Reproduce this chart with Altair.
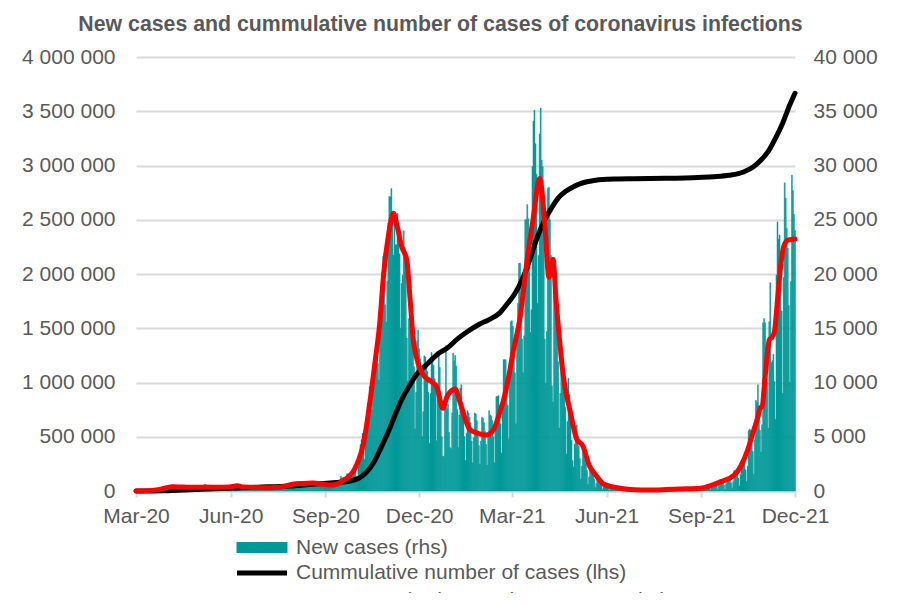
import altair as alt
import pandas as pd

FONT = "Liberation Sans"
GRAY = "#595959"
GRID = "#D9D9D9"
TEAL = "#009999"

# ---------------- daily new cases (rhs), one list per month ----------------
new_2020_03 = [1, 0, 4, 1, 5, 6, 5, 9, 20, 17, 36, 14, 27, 27, 51, 49, 68, 111, 98, 115,
               152, 150, 170, 170, 249, 224, 193, 256]  # from 4 March
new_2020_04 = [243, 392, 437, 475, 311, 435, 357, 370, 380, 336, 401, 318, 260, 268, 380,
               336, 363, 545, 263, 545, 313, 381, 287, 326, 460, 236, 234, 306, 300, 381]
new_2020_05 = [303, 295, 272, 319, 321, 307, 261, 387, 330, 595, 361, 379, 345, 291, 322,
               378, 318, 314, 417, 269, 307, 395, 443, 290, 292, 191, 395, 285, 290, 254, 380]
new_2020_06 = [230, 292, 361, 318, 576, 575, 599, 375, 282, 359, 314, 440, 404, 407, 342,
               254, 299, 300, 286, 301, 300, 236, 193, 213, 223, 318, 279, 250, 265, 230]
new_2020_07 = [371, 371, 299, 283, 262, 243, 193, 262, 299, 358, 318, 290, 250, 197, 299,
               275, 336, 358, 334, 322, 337, 332, 374, 418, 584, 443, 384, 512, 615, 615, 657]
new_2020_08 = [658, 599, 680, 512, 640, 726, 809, 843, 721, 548, 587, 680, 623, 832, 655,
               597, 576, 601, 814, 811, 903, 887, 738, 601, 570, 610, 887, 794, 619, 631, 549]
new_2020_09 = [555, 579, 596, 624, 716, 506, 386, 461, 549, 597, 595, 678, 520, 400, 500,
               600, 1002, 1002, 1350, 1002, 746, 748, 975, 1136, 1587, 1584, 1306, 1000, 1306, 1326]
new_2020_10 = [1552, 1937, 1934, 1344, 1306, 2236, 3003, 4280, 4739, 5300, 4178, 2902, 5068,
               6526, 8099, 7705, 9622, 8536, 7482, 9291, 10040, 12107, 13632, 13628, 11742,
               10241, 16300, 18820, 20156, 21629, 21897]
new_2020_11 = [17171, 15578, 19364, 24692, 27143, 27086, 27875, 24785, 21713, 25221, 22683,
               22700, 25571, 24051, 21854, 15002, 19152, 19883, 23975, 22464, 21130, 14100,
               10139, 15896, 15362, 17758, 16767, 15178, 11483, 5733]
new_2020_12 = [9105, 13855, 14838, 13110, 12169, 11068, 4998, 7309, 12454, 12352, 11679, 11011,
               9104, 4385, 8977, 12780, 12168, 11598, 10352, 9281, 4627, 8432, 12839, 11396,
               8000, 4999, 3183, 3211, 7620, 13397, 7597]
new_2021_01 = [8000, 5400, 4000, 3900, 7200, 12700, 12000, 12500, 11500, 7500, 4000, 7000, 9500,
               9800, 8000, 7300, 5000, 2800, 5300, 7400, 7200, 6800, 6300, 4600, 2600, 4900,
               7200, 7100, 6500, 5400, 4200]
new_2021_02 = [2500, 4600, 6800, 6700, 6300, 5500, 4300, 2400, 5200, 7400, 7000, 6900, 6500,
               5000, 2600, 6100, 8700, 8700, 8800, 7900, 6200, 3500, 7900, 12100, 12100, 12100,
               10500, 7900]
new_2021_03 = [4800, 11000, 15600, 15700, 15200, 14000, 10900, 6200, 14400, 17300, 21000, 21000,
               17400, 14000, 10900, 14300, 25000, 25000, 26400, 25100, 21800, 14600, 16700,
               29900, 34100, 35100, 32000, 29200, 17300, 21700, 32900]
new_2021_04 = [35300, 30500, 29900, 24800, 14000, 9900, 14700, 27900, 28000, 25000, 21700, 9700,
               8200, 21300, 21000, 17800, 15300, 11900, 5800, 9000, 13900, 12500, 11600, 9900,
               7700, 3400, 6400, 10400, 8900, 7300]
new_2021_05 = [4700, 2800, 2200, 4300, 5800, 6100, 5100, 4100, 3000, 1100, 2300, 3900, 3400,
               2900, 2500, 1900, 600, 1300, 2300, 2100, 1800, 1500, 1100, 350, 700, 1300, 1100,
               1000, 800, 600, 150]
new_2021_06 = [400, 620, 400, 450, 450, 330, 80, 230, 370, 310, 280, 230, 160, 40, 160, 250, 200,
               180, 140, 110, 30, 90, 150, 130, 110, 90, 80, 25, 60, 100]
new_2021_07 = [90, 80, 70, 60, 20, 60, 100, 90, 80, 70, 60, 25, 70, 100, 100, 100, 90, 70, 30,
               80, 120, 110, 120, 110, 80, 40, 90, 170, 150, 150, 130]
new_2021_08 = [100, 50, 110, 220, 200, 180, 190, 140, 60, 140, 230, 220, 210, 200, 150, 60, 120,
               250, 240, 230, 220, 170, 80, 170, 300, 250, 280, 260, 200, 90, 210]
new_2021_09 = [390, 380, 350, 310, 260, 100, 250, 460, 470, 430, 450, 330, 130, 350, 690, 690,
               680, 600, 470, 170, 510, 820, 900, 780, 730, 560, 190, 630, 1030, 1150]
new_2021_10 = [1000, 960, 750, 300, 850, 1900, 1840, 1750, 1540, 1200, 470, 1500, 2640, 2770,
               2990, 2700, 1950, 900, 2300, 5560, 5710, 5590, 4830, 3650, 1550, 4730, 8360,
               8200, 9800, 7900, 5600]
new_2021_11 = [3600, 6100, 15500, 15900, 15500, 13300, 10000, 5800, 15600, 19200, 11800, 12000,
               12600, 10100, 6600, 19900, 24800, 23200, 23600, 21000, 16600, 9000, 19700,
               28400, 27000, 24200, 22400, 17100, 10000, 19300]
new_2021_12 = [29100, 27700, 25500, 24000]

month_starts = ["2020-03-04", "2020-04-01", "2020-05-01", "2020-06-01", "2020-07-01",
                "2020-08-01", "2020-09-01", "2020-10-01", "2020-11-01", "2020-12-01",
                "2021-01-01", "2021-02-01", "2021-03-01", "2021-04-01", "2021-05-01",
                "2021-06-01", "2021-07-01", "2021-08-01", "2021-09-01", "2021-10-01",
                "2021-11-01", "2021-12-01"]
monthly_new = [new_2020_03, new_2020_04, new_2020_05, new_2020_06, new_2020_07, new_2020_08,
               new_2020_09, new_2020_10, new_2020_11, new_2020_12, new_2021_01, new_2021_02,
               new_2021_03, new_2021_04, new_2021_05, new_2021_06, new_2021_07, new_2021_08,
               new_2021_09, new_2021_10, new_2021_11, new_2021_12]

# ---------------- cumulative number of cases (lhs) ----------------
cum_dates = ["2020-03-04", "2020-03-31", "2020-04-30", "2020-05-31", "2020-06-30", "2020-07-31",
             "2020-08-31", "2020-09-15", "2020-09-30", "2020-10-07", "2020-10-14", "2020-10-21",
             "2020-10-28", "2020-11-04", "2020-11-11", "2020-11-18", "2020-11-25", "2020-12-02",
             "2020-12-09", "2020-12-16", "2020-12-23", "2020-12-31", "2021-01-10", "2021-01-20",
             "2021-01-31", "2021-02-10", "2021-02-20", "2021-02-28", "2021-03-07", "2021-03-14",
             "2021-03-21", "2021-03-28", "2021-04-04", "2021-04-11", "2021-04-18", "2021-04-25",
             "2021-05-02", "2021-05-09", "2021-05-16", "2021-05-23", "2021-05-31", "2021-06-15",
             "2021-07-01", "2021-08-01", "2021-09-01", "2021-09-15", "2021-10-01", "2021-10-15",
             "2021-10-25", "2021-11-01", "2021-11-08", "2021-11-15", "2021-11-22", "2021-11-29",
             "2021-12-04"]
cum_values = [0, 3000, 13700, 24700, 35200, 46300, 69100, 77800, 97000, 121000, 175000, 265000,
              400000, 545000, 710000, 860000, 975000, 1080000, 1145000, 1210000, 1270000,
              1315000, 1400000, 1470000, 1535000, 1580000, 1640000, 1730000, 1820000, 1950000,
              2120000, 2320000, 2480000, 2600000, 2700000, 2760000, 2800000, 2830000, 2850000,
              2862000, 2871000, 2876000, 2879000, 2882000, 2890000, 2897000, 2910000, 2940000,
              2990000, 3050000, 3130000, 3250000, 3390000, 3560000, 3666000]

# ---------------- 7-day moving average of new cases (rhs) ----------------
avg_dates = ["2020-03-04", "2020-03-15", "2020-03-27", "2020-04-08", "2020-04-18", "2020-05-01",
             "2020-05-11", "2020-05-21", "2020-06-03", "2020-06-10", "2020-06-16", "2020-07-05",
             "2020-07-22", "2020-08-03", "2020-08-13", "2020-08-23", "2020-09-02", "2020-09-11",
             "2020-09-17", "2020-09-21", "2020-09-25", "2020-10-01", "2020-10-06", "2020-10-11",
             "2020-10-17", "2020-10-22", "2020-10-27", "2020-10-30", "2020-11-04", "2020-11-09",
             "2020-11-12", "2020-11-17", "2020-11-22", "2020-11-25", "2020-11-28", "2020-12-03",
             "2020-12-08", "2020-12-16", "2020-12-21", "2020-12-27", "2020-12-31", "2021-01-05",
             "2021-01-08", "2021-01-12", "2021-01-17", "2021-01-22", "2021-01-30", "2021-02-07",
             "2021-02-14", "2021-02-19", "2021-02-24", "2021-03-01", "2021-03-05", "2021-03-12",
             "2021-03-18", "2021-03-25", "2021-03-31", "2021-04-05", "2021-04-09", "2021-04-13",
             "2021-04-16", "2021-04-18", "2021-04-23", "2021-04-30", "2021-05-06", "2021-05-12",
             "2021-05-18", "2021-05-25", "2021-06-01", "2021-06-17", "2021-07-01", "2021-07-15",
             "2021-08-01", "2021-08-15", "2021-09-03", "2021-09-23", "2021-10-06", "2021-10-12",
             "2021-10-19", "2021-10-24", "2021-10-29", "2021-10-31", "2021-11-02", "2021-11-05",
             "2021-11-09", "2021-11-12", "2021-11-14", "2021-11-17", "2021-11-20", "2021-11-23",
             "2021-11-27", "2021-12-04"]
avg_values = [0, 20, 150, 390, 370, 340, 370, 340, 380, 480, 360, 300, 350, 620, 700, 740, 620,
              560, 710, 1000, 1200, 1800, 2800, 4400, 8080, 11770, 15760, 19450, 23440, 25600,
              24670, 22520, 21290, 17900, 14220, 11770, 10690, 10070, 9610, 7620, 8700, 9300,
              9400, 8390, 6850, 5700, 5320, 5160, 5620, 6850, 8390, 10530, 12700, 16000, 20670,
              25280, 28800, 24670, 19700, 21350, 17500, 15300, 10600, 7200, 4780, 4150, 2400,
              1400, 650, 250, 110, 90, 130, 180, 250, 860, 1470, 2240, 3780, 5320, 6850, 7620,
              7770, 10530, 13920, 14220, 14680, 17600, 20670, 22520, 23130, 23220]

left_ticks = [0, 500000, 1000000, 1500000, 2000000, 2500000, 3000000, 3500000, 4000000]
right_ticks = [0, 5000, 10000, 15000, 20000, 25000, 30000, 35000, 40000]
x_ticks = [(2020, 3, 4), (2020, 6, 4), (2020, 9, 4), (2020, 12, 4),
           (2021, 3, 4), (2021, 6, 4), (2021, 9, 4), (2021, 12, 4)]

LBL_BARS = "New cases (rhs)"
LBL_CUM = "Cummulative number of cases (lhs)"
LBL_AVG = "New cases (7-day moving average, rhs)"

# ---------------- tables ----------------
rows = []
for start, vals in zip(month_starts, monthly_new):
    for i, v in enumerate(vals):
        d = pd.Timestamp(start) + pd.Timedelta(days=i)
        rows.append({"start": d - pd.Timedelta(hours=12), "end": d + pd.Timedelta(hours=12),
                     "new": v, "base": 0, "series": LBL_BARS})
bars_df = pd.DataFrame(rows)
cum_df = pd.DataFrame({"date": pd.to_datetime(cum_dates), "cum": cum_values, "series": LBL_CUM})
avg_df = pd.DataFrame({"date": pd.to_datetime(avg_dates), "avg": avg_values, "series": LBL_AVG})

space_fmt = "replace(format(datum.value, ','), regexp(',', 'g'), ' ')"

x_scale = alt.Scale(domain=[alt.DateTime(year=2020, month=3, date=4),
                            alt.DateTime(year=2021, month=12, date=4)])
x_axis = alt.Axis(values=[alt.DateTime(year=y, month=m, date=d) for y, m, d in x_ticks],
                  format="%b-%y", labelFontSize=21, labelColor=GRAY, labelFont=FONT,
                  tickColor=GRID, tickWidth=2, tickSize=6, domainColor=GRID, domainWidth=2,
                  grid=False, labelPadding=8, title=None, labelOverlap=False,
                  labelFlush=False)

left_axis = alt.Axis(orient="left", values=left_ticks, labelExpr=space_fmt, grid=True,
                     gridColor=GRID, gridWidth=2, domain=False, ticks=False, labelPadding=21,
                     labelFontSize=21, labelColor=GRAY, labelFont=FONT, title=None,
                     labelFlush=False)
right_axis = alt.Axis(orient="right", values=right_ticks, labelExpr=space_fmt, grid=False,
                      domain=False, ticks=False, labelPadding=18, labelFontSize=21,
                      labelColor=GRAY, labelFont=FONT, title=None, labelFlush=False)

fill_legend = alt.Legend(orient="none", legendX=115.5, legendY=480, title=None,
                         symbolType="M-5.1,-1.1H5.1V1.1H-5.1Z", symbolSize=100,
                         symbolStrokeWidth=0, labelFontSize=21, labelColor=GRAY,
                         labelFont=FONT, labelOffset=23.5, labelLimit=800, padding=0)
stroke_legend = alt.Legend(orient="none", legendX=115.5, legendY=505.5, title=None,
                           symbolType="M-5,0H5", symbolSize=100, symbolStrokeWidth=5,
                           labelFontSize=21, labelColor=GRAY, labelFont=FONT,
                           labelOffset=23.5, labelLimit=800, padding=0, rowPadding=5.5)

stroke_scale = alt.Scale(domain=[LBL_CUM, LBL_AVG], range=["#000000", "#FF0000"])

bars = alt.Chart(bars_df).mark_rect(stroke=TEAL, strokeWidth=0.45).encode(
    x=alt.X("start:T", scale=x_scale, axis=x_axis, title=None),
    x2="end:T",
    y=alt.Y("new:Q", scale=alt.Scale(domain=[0, 40000]), axis=right_axis, title=None),
    y2="base:Q",
    fill=alt.Fill("series:N", scale=alt.Scale(domain=[LBL_BARS], range=[TEAL]),
                  legend=fill_legend),
)

cum_line = alt.Chart(cum_df).mark_line(strokeWidth=5, strokeCap="round", strokeJoin="round",
                                       interpolate="monotone").encode(
    x=alt.X("date:T", scale=x_scale, axis=x_axis, title=None),
    y=alt.Y("cum:Q", scale=alt.Scale(domain=[0, 4000000]), axis=left_axis, title=None),
    stroke=alt.Stroke("series:N", scale=stroke_scale, legend=stroke_legend),
)

avg_line = alt.Chart(avg_df).mark_line(strokeWidth=5, strokeCap="round", strokeJoin="round",
                                       interpolate="monotone").encode(
    x=alt.X("date:T", scale=x_scale, axis=x_axis, title=None),
    y=alt.Y("avg:Q", scale=alt.Scale(domain=[0, 40000]), axis=None, title=None),
    stroke=alt.Stroke("series:N", scale=stroke_scale, legend=stroke_legend),
)

chart = alt.layer(bars, cum_line, avg_line).resolve_scale(y="independent").properties(
    width=659, height=434,
    autosize=alt.AutoSizeParams(type="none"),
    padding={"left": 128, "top": 49, "right": 90, "bottom": 102},
    title=alt.TitleParams(
        "New cases and cummulative number of cases of coronavirus infections",
        fontSize=21.3, fontWeight="bold", color=GRAY, font=FONT, anchor="middle",
        frame="group", dx=-25, offset=11),
).configure_view(stroke=None)

chart.save("out.html", embed_options={"renderer": "svg", "actions": False})
